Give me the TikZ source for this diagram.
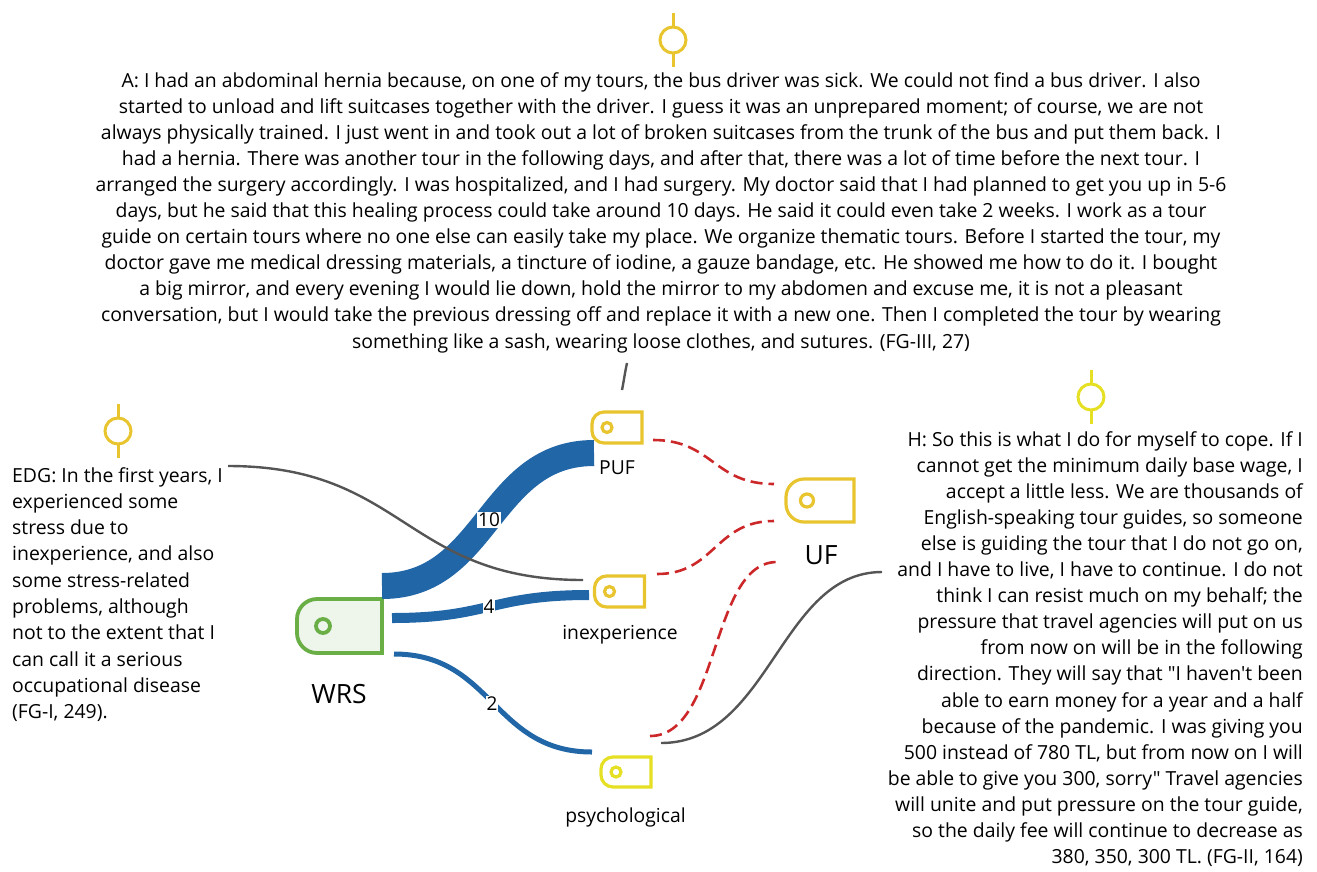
\documentclass[tikz,border=0pt]{standalone}
\usepackage{fontspec}
\setmainfont{Open Sans}
% plain family without TeX ligatures, so quotes stay straight
\newfontfamily\osans{Open Sans}
\definecolor{gold}{RGB}{232,196,46}
\definecolor{lemon}{RGB}{230,224,36}
\definecolor{flow}{RGB}{33,102,166}
\definecolor{link}{RGB}{204,40,42}
\definecolor{memo}{RGB}{85,85,85}
\definecolor{leaf}{RGB}{106,174,70}
\definecolor{leaffill}{RGB}{238,246,236}
% tag-shaped code node: #1 node, #2 corner radius, #3 circle offset, #4 circle radius, #5 style
\newcommand\tagshape[5]{%
  \draw[#5] (#1.north east) -- ([xshift=#2]#1.north west)
    arc[start angle=90, end angle=180, radius=#2]
    -- ([yshift=#2]#1.south west)
    arc[start angle=180, end angle=270, radius=#2]
    -- (#1.south east) -- cycle;
  \draw[#5, fill=none] ([xshift=#3]#1.west) circle[radius=#4];}
% memo marker: circle on a short vertical stem
\newcommand\memomark[4]{%
  \draw[#4, line width=3pt] (#1,#2-27) -- (#1,#2-13) (#1,#2+13) -- (#1,#2+27);
  \draw[#4, line width=3pt] (#1,#2) circle[radius=#3];}
\begin{document}
\begin{tikzpicture}[x=1pt, y=-1pt,
  tagnode/.style={draw=none, inner sep=0pt, outer sep=0pt, rectangle},
  codetag/.style={draw=gold, line width=3.2pt, fill=white},
  lemontag/.style={draw=lemon, line width=3.2pt, fill=white},
  roottag/.style={draw=leaf, line width=3.8pt, fill=leaffill},
  lbl/.style={font=\osans\fontsize{19.3}{22}\selectfont, inner sep=1pt},
  biglbl/.style={font=\osans\fontsize{26.5}{30}\selectfont, inner sep=1pt},
  quote/.style={font=\osans\fontsize{19.4}{26.1}\selectfont, inner sep=0pt},
  band/.style={draw=flow, line cap=butt},
  count/.style={font=\osans\fontsize{19}{22}\selectfont, fill=white, inner sep=1pt},
  redlink/.style={draw=link, line width=2.6pt, dash pattern=on 12pt off 6pt},
  memolink/.style={draw=memo, line width=2.4pt}]
\useasboundingbox (0,0) rectangle (1317,871);

% code nodes
\node[tagnode, minimum width=85, minimum height=54] (wrs) at (339.5,626) {};
\node[tagnode, minimum width=50, minimum height=31] (puf) at (617,427.5) {};
\node[tagnode, minimum width=50, minimum height=31] (inex) at (619.5,591.5) {};
\node[tagnode, minimum width=50, minimum height=30] (psy) at (626,772) {};
\node[tagnode, minimum width=68, minimum height=43] (uf) at (820,500.5) {};

\tagshape{wrs}{20pt}{26pt}{7pt}{roottag}
\tagshape{puf}{12pt}{15pt}{5pt}{codetag}
\tagshape{inex}{12pt}{15pt}{5pt}{codetag}
\tagshape{psy}{12pt}{15pt}{5pt}{lemontag}
\tagshape{uf}{18pt}{21pt}{6.5pt}{codetag}

\node[biglbl] (wrsl) at (339,694) {WRS};
\node[lbl] (pufl) at (617,468) {PUF};
\node[lbl] (inexl) at (620,635) {inexperience};
\node[lbl] (psyl) at (625.5,817) {psychological};
\node[biglbl] (ufl) at (821,555) {UF};

% flows from WRS
\coordinate (f1a) at (382,586);
\coordinate (f1b) at (594,453);
\draw[band, line width=26pt] (f1a) .. controls (488,586) and (488,453) .. (f1b);
\node[count] (c10) at (489,520) {10};
\coordinate (f2a) at (392,618);
\coordinate (f2b) at (589,595);
\draw[band, line width=10pt] (f2a) .. controls (490,618) and (490,595) .. (f2b);
\node[count] (c4) at (489,607) {4};
\coordinate (f3a) at (394,654);
\coordinate (f3b) at (592,752);
\draw[band, line width=5pt] (f3a) .. controls (493,654) and (493,752) .. (f3b);
\node[count] (c2) at (492,704) {2};

% links to UF
\draw[redlink] (653,440) .. controls (713,440) and (713,484) .. (774,484);
\draw[redlink] (657,574) .. controls (715,574) and (715,521) .. (774,521);
\draw[redlink] (650,736) .. controls (720,736) and (710,562) .. (777,562);

% memo markers
\memomark{673}{40}{13}{gold}
\memomark{118}{431}{13}{gold}
\memomark{1091}{397}{13}{lemon}

% quotations
\node[quote, anchor=north, align=center] (qa) at (661,72) {%
A: I had an abdominal hernia because, on one of my tours, the bus driver was sick. We could not find a bus driver. I also\\
started to unload and lift suitcases together with the driver. I guess it was an unprepared moment; of course, we are not\\
always physically trained. I just went in and took out a lot of broken suitcases from the trunk of the bus and put them back. I\\
had a hernia. There was another tour in the following days, and after that, there was a lot of time before the next tour. I\\
arranged the surgery accordingly. I was hospitalized, and I had surgery. My doctor said that I had planned to get you up in 5-6\\
days, but he said that this healing process could take around 10 days. He said it could even take 2 weeks. I work as a tour\\
guide on certain tours where no one else can easily take my place. We organize thematic tours. Before I started the tour, my\\
doctor gave me medical dressing materials, a tincture of iodine, a gauze bandage, etc. He showed me how to do it. I bought\\
a big mirror, and every evening I would lie down, hold the mirror to my abdomen and excuse me, it is not a pleasant\\
conversation, but I would take the previous dressing off and replace it with a new one. Then I completed the tour by wearing\\
something like a sash, wearing loose clothes, and sutures. (FG-III, 27)};

\node[quote, anchor=north west, align=left, font=\osans\fontsize{19.4}{26.3}\selectfont] (qe) at (12,467) {%
EDG: In the first years, I\\
experienced some\\
stress due to\\
inexperience, and also\\
some stress-related\\
problems, although\\
not to the extent that I\\
can call it a serious\\
occupational disease\\
(FG-I, 249).};

\node[quote, anchor=north east, align=right] (qh) at (1303,431) {%
H: So this is what I do for myself to cope. If I\\
cannot get the minimum daily base wage, I\\
accept a little less. We are thousands of\\
English-speaking tour guides, so someone\\
else is guiding the tour that I do not go on,\\
and I have to live, I have to continue. I do not\\
think I can resist much on my behalf; the\\
pressure that travel agencies will put on us\\
from now on will be in the following\\
direction. They will say that "I haven't been\\
able to earn money for a year and a half\\
because of the pandemic. I was giving you\\
500 instead of 780 TL, but from now on I will\\
be able to give you 300, sorry" Travel agencies\\
will unite and put pressure on the tour guide,\\
so the daily fee will continue to decrease as\\
380, 350, 300 TL. (FG-II, 164)};

% memo connectors
\coordinate (ma) at (622,390);
\coordinate (mb) at (627,363);
\draw[memolink] (ma) .. controls (624,380) and (625,372) .. (mb);
\coordinate (me) at (228,466);
\draw[memolink] (me) .. controls (405,466) and (405,580) .. (583,580);
\coordinate (mh) at (882,572);
\draw[memolink] (661,743) .. controls (770,743) and (780,572) .. (mh);
\end{tikzpicture}
\end{document}
